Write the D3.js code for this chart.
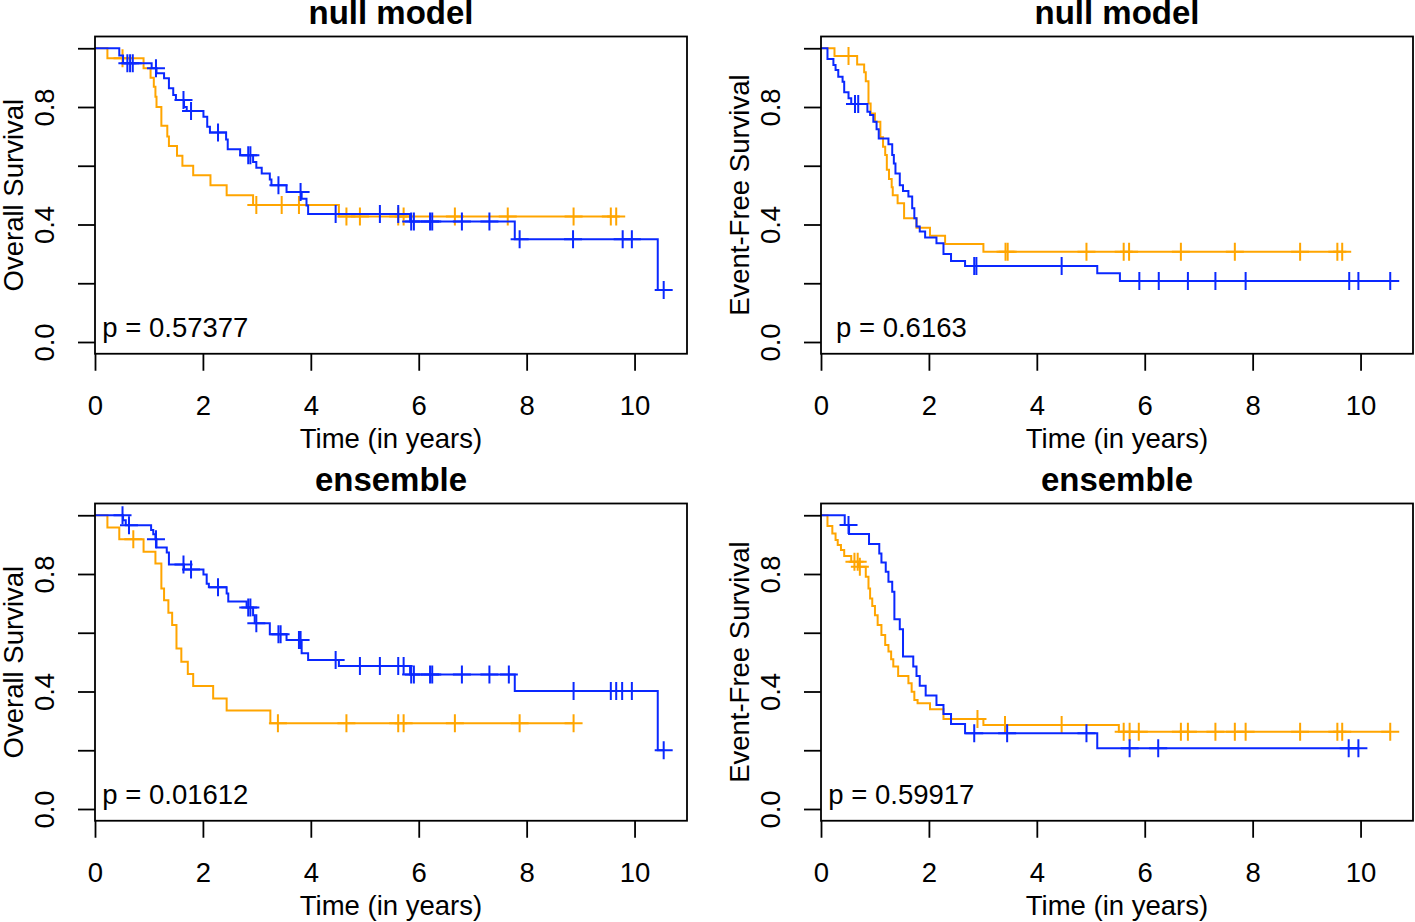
<!DOCTYPE html>
<html><head><meta charset="utf-8">
<script src="https://cdn.jsdelivr.net/npm/d3@7"></script>
<style>
body{margin:0;background:#fff}
svg{display:block}
text{font-family:"Liberation Sans",Arial,Helvetica,sans-serif;fill:#000}
</style>
</head><body>
<svg id="chart" width="1415" height="922"></svg>
<script>
// ---------- labels ----------
const panelTitles = ["null model", "null model", "ensemble", "ensemble"];
const yLabels = ["Overall Survival", "Event-Free Survival", "Overall Survival", "Event-Free Survival"];
const pLabels = ["p = 0.57377", "p = 0.6163", "p = 0.01612", "p = 0.59917"];
const xLabel = "Time (in years)";
const xTicks = [0, 2, 4, 6, 8, 10];
const yTicks = [0, 0.2, 0.4, 0.6, 0.8, 1.0];
const yTickLabels = [0, 0.4, 0.8];

// ---------- panel 1: OS, null model ----------
const p1OrangeTimes = [0.23, 0.90, 1.03, 1.09, 1.12, 1.14, 1.23, 1.34, 1.37, 1.52, 1.62, 1.82, 2.14, 2.44, 2.93, 4.52];
const p1OrangeSurv  = [0.966, 0.932, 0.900, 0.869, 0.835, 0.800, 0.736, 0.700, 0.667, 0.634, 0.600, 0.568, 0.534, 0.500, 0.466, 0.427];
const p1OrangeCens  = [0.51, 2.99, 3.46, 3.78, 4.66, 4.91, 5.62, 5.72, 6.67, 7.65, 8.87, 9.56, 9.66];
const p1BlueTimes = [0.45, 0.52, 1.05, 1.14, 1.28, 1.37, 1.45, 1.50, 1.65, 1.70, 2.01, 2.08, 2.13, 2.43, 2.46, 2.69, 2.93, 2.99, 3.09, 3.24, 3.27, 3.55, 3.83, 3.92, 3.95, 5.84, 7.78, 10.43];
const p1BlueSurv  = [0.975, 0.949, 0.932, 0.915, 0.898, 0.864, 0.841, 0.824, 0.800, 0.786, 0.767, 0.733, 0.713, 0.689, 0.656, 0.636, 0.613, 0.593, 0.574, 0.553, 0.534, 0.511, 0.488, 0.465, 0.436, 0.410, 0.350, 0.177];
const p1BlueCens  = [0.60, 0.65, 0.70, 1.13, 1.64, 1.78, 2.28, 2.84, 2.88, 3.40, 3.81, 4.46, 5.28, 5.62, 5.86, 5.91, 6.21, 6.25, 6.80, 7.31, 7.87, 8.86, 9.78, 9.95, 10.54];

// ---------- panel 2: EFS, null model ----------
const p2OrangeTimes = [0.25, 0.67, 0.80, 0.83, 0.88, 0.92, 1.00, 1.10, 1.15, 1.19, 1.22, 1.26, 1.31, 1.33, 1.42, 1.54, 1.77, 2.02, 2.30, 3.01];
const p2OrangeSurv  = [0.974, 0.945, 0.918, 0.888, 0.812, 0.778, 0.750, 0.697, 0.665, 0.637, 0.586, 0.555, 0.527, 0.500, 0.472, 0.421, 0.389, 0.362, 0.334, 0.307];
const p2OrangeCens  = [0.51, 3.42, 3.46, 4.92, 5.61, 5.71, 6.67, 7.67, 8.88, 9.57, 9.66];
const p2BlueTimes = [0.12, 0.23, 0.27, 0.32, 0.40, 0.43, 0.51, 0.56, 0.86, 0.91, 0.97, 1.03, 1.07, 1.25, 1.32, 1.35, 1.38, 1.46, 1.52, 1.62, 1.69, 1.73, 1.77, 1.83, 1.93, 2.14, 2.27, 2.41, 2.67, 5.12, 5.54];
const p2BlueSurv  = [0.963, 0.943, 0.926, 0.903, 0.886, 0.850, 0.830, 0.810, 0.784, 0.773, 0.750, 0.724, 0.693, 0.673, 0.637, 0.608, 0.574, 0.534, 0.514, 0.495, 0.455, 0.421, 0.393, 0.376, 0.356, 0.336, 0.300, 0.276, 0.259, 0.234, 0.208];
const p2BlueCens  = [0.63, 0.69, 2.84, 2.88, 4.46, 5.90, 6.26, 6.80, 7.31, 7.87, 9.79, 9.96, 10.55];

// ---------- panel 3: OS, ensemble ----------
const p3OrangeTimes = [0.23, 0.45, 0.90, 1.12, 1.23, 1.28, 1.36, 1.43, 1.51, 1.60, 1.72, 1.82, 2.19, 2.44, 3.25];
const p3OrangeSurv  = [0.958, 0.918, 0.876, 0.836, 0.751, 0.711, 0.668, 0.626, 0.546, 0.501, 0.460, 0.419, 0.376, 0.335, 0.292];
const p3OrangeCens  = [0.71, 3.39, 4.66, 5.62, 5.72, 6.67, 7.87, 8.87];
const p3BlueTimes = [0.52, 0.57, 1.04, 1.08, 1.12, 1.14, 1.33, 1.37, 1.65, 2.01, 2.07, 2.11, 2.44, 2.47, 2.81, 2.93, 2.96, 3.24, 3.55, 3.83, 3.95, 4.52, 5.84, 7.78, 10.43];
const p3BlueSurv  = [0.983, 0.966, 0.950, 0.935, 0.918, 0.890, 0.873, 0.832, 0.815, 0.798, 0.767, 0.755, 0.734, 0.706, 0.686, 0.660, 0.632, 0.595, 0.575, 0.530, 0.507, 0.487, 0.458, 0.402, 0.200];
const p3BlueCens  = [0.51, 0.63, 1.13, 1.64, 1.78, 2.28, 2.84, 2.88, 2.99, 3.40, 3.44, 3.78, 3.81, 4.46, 4.91, 5.28, 5.62, 5.72, 5.86, 5.91, 6.21, 6.25, 6.80, 7.31, 7.67, 8.87, 9.56, 9.66, 9.77, 9.95, 10.54];

// ---------- panel 4: EFS, ensemble ----------
const p4OrangeTimes = [0.12, 0.21, 0.27, 0.31, 0.37, 0.43, 0.56, 0.70, 0.83, 0.88, 0.91, 0.95, 1.00, 1.05, 1.12, 1.19, 1.25, 1.30, 1.34, 1.43, 1.62, 1.68, 1.73, 1.79, 2.02, 2.27, 3.01, 5.52];
const p4OrangeSurv  = [0.963, 0.938, 0.916, 0.899, 0.882, 0.861, 0.842, 0.825, 0.791, 0.751, 0.717, 0.691, 0.660, 0.626, 0.592, 0.558, 0.536, 0.510, 0.485, 0.453, 0.428, 0.399, 0.371, 0.360, 0.340, 0.306, 0.286, 0.263];
const p4OrangeCens  = [0.62, 0.68, 0.72, 2.90, 3.41, 4.46, 5.61, 5.72, 5.89, 6.67, 6.80, 7.31, 7.67, 7.87, 8.88, 9.57, 9.66, 10.55];
const p4BlueTimes = [0.44, 0.52, 0.89, 1.08, 1.12, 1.20, 1.25, 1.32, 1.36, 1.46, 1.52, 1.71, 1.77, 1.83, 1.94, 2.14, 2.27, 2.41, 2.67, 5.12];
const p4BlueSurv  = [0.967, 0.936, 0.902, 0.870, 0.839, 0.808, 0.774, 0.740, 0.646, 0.612, 0.519, 0.485, 0.453, 0.420, 0.386, 0.354, 0.323, 0.289, 0.258, 0.207];
const p4BlueCens  = [0.51, 2.84, 3.45, 4.92, 5.72, 6.25, 9.78, 9.96];

const orangeColor = "#FFA500";
const blueColor = "#0a28ff";

// ---------- assemble ----------
const panelSeries = [
  [[p1OrangeTimes, p1OrangeSurv, p1OrangeCens], [p1BlueTimes, p1BlueSurv, p1BlueCens]],
  [[p2OrangeTimes, p2OrangeSurv, p2OrangeCens], [p2BlueTimes, p2BlueSurv, p2BlueCens]],
  [[p3OrangeTimes, p3OrangeSurv, p3OrangeCens], [p3BlueTimes, p3BlueSurv, p3BlueCens]],
  [[p4OrangeTimes, p4OrangeSurv, p4OrangeCens], [p4BlueTimes, p4BlueSurv, p4BlueCens]]
];
const seriesColors = [orangeColor, blueColor];

const allTimes = panelSeries.flat().flatMap(s => s[0].concat(s[2]));
const xMax = d3.max(allTimes) * 1.04;   // R survfit "S" axis style: 0 at left edge, 4% extension right

const svg = d3.select("#chart");
svg.append("rect").attr("width", 1415).attr("height", 922).attr("fill", "#fff");

const boxW = 592, boxH = 317.25;
const colX = [95, 821];
const rowY = [36.5, 503.5];

function levelAt(times, surv, t) {
  let s = 1;
  for (let i = 0; i < times.length; i++) if (times[i] <= t) s = surv[i];
  return s;
}

panelSeries.forEach((series, i) => {
  const x0 = colX[i % 2], y0 = rowY[Math.floor(i / 2)];
  const x = d3.scaleLinear().domain([0, xMax]).range([x0, x0 + boxW]);
  const y = d3.scaleLinear().domain([-0.04, 1.04]).range([y0 + boxH, y0]);
  const g = svg.append("g");

  // curves
  series.forEach((s, k) => {
    const [times, surv, cens] = s;
    const end = Math.max(d3.max(times), d3.max(cens));
    const pts = [[0, 1]].concat(times.map((t, j) => [t, surv[j]]));
    pts.push([end, surv[surv.length - 1]]);
    const line = d3.line().x(d => x(d[0])).y(d => y(d[1])).curve(d3.curveStepAfter);
    g.append("path").attr("d", line(pts)).attr("fill", "none")
      .attr("stroke", seriesColors[k]).attr("stroke-width", 2);
    g.selectAll(null).data(cens).enter().append("path")
      .attr("d", c => {
        const cx = x(c), cy = y(levelAt(times, surv, c));
        return `M${cx - 9},${cy}H${cx + 9}M${cx},${cy - 9}V${cy + 9}`;
      })
      .attr("stroke", seriesColors[k]).attr("stroke-width", 2).attr("fill", "none");
  });

  // box
  g.append("rect").attr("x", x0).attr("y", y0).attr("width", boxW).attr("height", boxH)
    .attr("fill", "none").attr("stroke", "#000").attr("stroke-width", 1.8);

  // x axis
  const xa = g.append("g").attr("transform", `translate(0,${y0 + boxH})`)
    .call(d3.axisBottom(x).tickValues(xTicks).tickSize(17).tickSizeOuter(0).tickFormat(d3.format("d")));
  xa.select(".domain").remove();
  xa.selectAll(".tick line").attr("stroke", "#000").attr("stroke-width", 1.8);
  xa.selectAll(".tick text").attr("y", 61).attr("dy", null)
    .style("font-size", "27.5px").style("font-family", '"Liberation Sans", Arial, sans-serif').attr("fill", "#000");

  // y axis
  const ya = g.append("g").attr("transform", `translate(${x0},0)`)
    .call(d3.axisLeft(y).tickValues(yTicks).tickSize(17).tickSizeOuter(0)
      .tickFormat(d => yTickLabels.some(v => Math.abs(v - d) < 1e-9) ? d3.format(".1f")(d) : ""));
  ya.select(".domain").remove();
  ya.selectAll(".tick line").attr("stroke", "#000").attr("stroke-width", 1.8);
  ya.selectAll(".tick text").attr("x", null).attr("dy", null).attr("y", null)
    .attr("transform", "translate(-41.5,0) rotate(-90)")
    .attr("text-anchor", "middle")
    .style("font-size", "27.5px").style("font-family", '"Liberation Sans", Arial, sans-serif').attr("fill", "#000");

  // axis titles
  g.append("text").attr("x", x0 + boxW / 2).attr("y", y0 + boxH + 94)
    .attr("text-anchor", "middle").style("font-size", "27.5px").text(xLabel);
  g.append("text").attr("transform", `translate(${x0 - 72.3},${y0 + boxH / 2}) rotate(-90)`)
    .attr("text-anchor", "middle").style("font-size", "27.5px").text(yLabels[i]);

  // title
  g.append("text").attr("x", x0 + boxW / 2).attr("y", y0 - 13)
    .attr("text-anchor", "middle").style("font-size", "33px").style("font-weight", "bold").text(panelTitles[i]);

  // p value
  g.append("text").attr("x", x(1.49)).attr("y", y(0.05) + 9.5)
    .attr("text-anchor", "middle").style("font-size", "27.5px").text(pLabels[i]);
});
</script>
</body></html>
